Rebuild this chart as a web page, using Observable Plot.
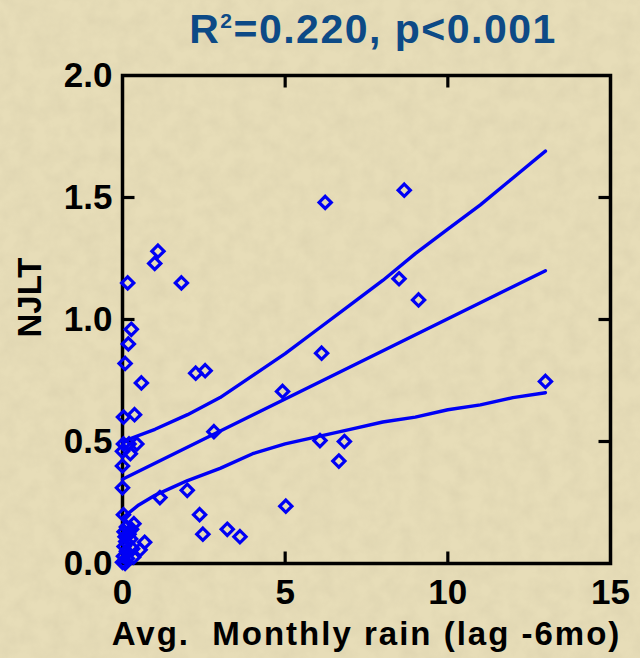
<!DOCTYPE html>
<html>
<head>
<meta charset="utf-8">
<script src="https://cdn.jsdelivr.net/npm/d3@7"></script>
<script src="https://cdn.jsdelivr.net/npm/@observablehq/plot@0.6"></script>
<style>
  html, body { margin: 0; padding: 0; }
  #page { position: relative; width: 640px; height: 658px; background-color: #e7ddb8; overflow: hidden; font-family: "Liberation Sans", Arial, sans-serif; }
  #title { position: relative; height: 60px; }
  #title span.t { position: absolute; left: 373px; top: 9px; transform: translateX(-50%); white-space: nowrap;
    font-size: 41px; line-height: 1; font-weight: bold; color: #0d4a86; letter-spacing: 1.5px; }
  #title sup { font-size: 21px; vertical-align: 15px; line-height: 0; }
  svg text { white-space: pre; }
</style>
</head>
<body>
<div id="page">
  <div id="title"><span class="t">R<sup>2</sup>=0.220, p&lt;0.001</span></div>
  <div id="chart"></div>
</div>
<script>
// ---- data ----
const rain = [
  0.00, 0.08, 0.03, 0.15, 0.05, 0.12, 0.10, 0.08, 0.05, 0.20, 0.25, 0.12, 0.31, 0.34, 0.54, 0.68, 0.35, 0.28, 0.03,
  0.00, 0.00, 0.00, 0.24, 0.03, 0.20, 0.44, 0.03, 0.37, 0.58, 0.08, 0.18, 0.27, 0.16, 0.99, 1.09, 1.81,
  1.15, 1.99, 2.37, 2.47, 3.22, 3.61, 5.02, 2.25, 2.54, 2.81, 4.92, 6.12, 6.07, 6.82, 6.65, 6.23, 8.66, 8.50, 9.10, 13.0
];
const njlt = [
  0.005, 0.00, 0.03, 0.02, 0.07, 0.05, 0.09, 0.11, 0.13, 0.12, 0.10, 0.15, 0.06, 0.026, 0.056, 0.087, 0.163, 0.14, 0.20,
  0.31, 0.40, 0.46, 0.45, 0.49, 0.49, 0.49, 0.60, 0.61, 0.74, 0.82, 0.90, 0.96, 1.15, 1.23, 1.28, 1.15,
  0.27, 0.30, 0.20, 0.12, 0.14, 0.11, 0.235, 0.78, 0.79, 0.54, 0.705, 0.862, 0.504, 0.50, 0.42, 1.48, 1.53, 1.167, 1.08, 0.746
];
const fitX = [0, 13];
const fitY = [0.345, 1.20];
const upperX = [0, 1, 2, 3, 4, 5, 6, 7, 8, 9, 10, 11, 12, 13];
const upperY = [0.50, 0.55, 0.61, 0.68, 0.77, 0.86, 0.96, 1.06, 1.16, 1.27, 1.37, 1.47, 1.58, 1.69];
const lowerX = [0.03, 0.5, 1, 1.5, 2, 3, 4, 5, 6, 7, 8, 9, 10, 11, 12, 13];
const lowerY = [0.19, 0.24, 0.28, 0.31, 0.34, 0.39, 0.45, 0.49, 0.52, 0.55, 0.58, 0.60, 0.63, 0.65, 0.68, 0.70];
const xTicks = [0, 5, 10, 15];
const yTicks = [0, 0.5, 1.0, 1.5, 2.0];
const xInnerTicks = [5, 10];
const yInnerTicks = [0.5, 1.0, 1.5];
const xLabel = "Avg.  Monthly rain (lag -6mo)";
const yLabel = "NJLT";

// parchment texture
const noise = `<svg xmlns='http://www.w3.org/2000/svg' width='640' height='658'><filter id='n'><feTurbulence type='fractalNoise' baseFrequency='0.06' numOctaves='3' seed='7'/><feColorMatrix values='0 0 0 0 0.45  0 0 0 0 0.40  0 0 0 0 0.26  0 0 0 1.0 -0.3'/></filter><rect width='100%' height='100%' filter='url(#n)' opacity='0.22'/></svg>`;
document.getElementById("page").style.backgroundImage = `url("data:image/svg+xml,${encodeURIComponent(noise)}")`;

const blue = "#0000f5";
const W = 640, H = 598, mT = 15, mB = 95, mL = 122, mR = 30;
const xDomain = [0, 15], yDomain = [0, 2];
const T = 12; // inward tick length in pixels
const frameW = W - mL - mR, frameH = H - mT - mB;
const dxT = T / frameW * (xDomain[1] - xDomain[0]);
const dyT = T / frameH * (yDomain[1] - yDomain[0]);

// inward tick segments on all four sides, derived from the tick values
const innerTicks = [
  ...xInnerTicks.flatMap(v => [{x: v, y: yDomain[0], k: "b" + v}, {x: v, y: yDomain[0] + dyT, k: "b" + v}]),
  ...xInnerTicks.flatMap(v => [{x: v, y: yDomain[1], k: "t" + v}, {x: v, y: yDomain[1] - dyT, k: "t" + v}]),
  ...yInnerTicks.flatMap(v => [{x: xDomain[0], y: v, k: "l" + v}, {x: xDomain[0] + dxT, y: v, k: "l" + v}]),
  ...yInnerTicks.flatMap(v => [{x: xDomain[1], y: v, k: "r" + v}, {x: xDomain[1] - dxT, y: v, k: "r" + v}])
];

const chart = Plot.plot({
  width: W, height: H, marginTop: mT, marginBottom: mB, marginLeft: mL, marginRight: mR,
  x: {domain: xDomain},
  y: {domain: yDomain},
  style: {background: "transparent", fontFamily: "'Liberation Sans', Arial, sans-serif", fontWeight: "bold", color: "black", overflow: "visible"},
  marks: [
    Plot.axisX({ticks: xTicks, tickSize: 0, tickPadding: 16, fontSize: 35, label: null}),
    Plot.axisY({ticks: yTicks, tickSize: 0, tickPadding: 10, tickFormat: d3.format(".1f"), fontSize: 35, label: null}),
    Plot.line(innerTicks, {x: "x", y: "y", z: "k", stroke: "black", strokeWidth: 3.2, strokeLinecap: "butt"}),
    Plot.frame({stroke: "black", strokeWidth: 3.5}),
    Plot.line(upperX, {x: upperX, y: upperY, stroke: blue, strokeWidth: 3.4}),
    Plot.line(lowerX, {x: lowerX, y: lowerY, stroke: blue, strokeWidth: 3.4}),
    Plot.line(fitX, {x: fitX, y: fitY, stroke: blue, strokeWidth: 3.4}),
    Plot.dot(rain, {x: rain, y: njlt, symbol: "diamond2", r: 5.5, stroke: blue, strokeWidth: 3.2, fill: "none"}),
    Plot.text([xLabel], {frameAnchor: "bottom", lineAnchor: "top", dy: 58, fontSize: 33, fontWeight: "bold", fill: "black", textAnchor: "middle"}),
    Plot.text([yLabel], {frameAnchor: "left", rotate: -90, dx: -92, dy: -22, fontSize: 33, fontWeight: "bold", fill: "black", textAnchor: "middle", lineAnchor: "middle"})
  ]
});
document.getElementById("chart").appendChild(chart);
d3.select(chart).selectAll("text").filter(function() { return this.textContent === xLabel; }).style("letter-spacing", "2px");
</script>
</body>
</html>
